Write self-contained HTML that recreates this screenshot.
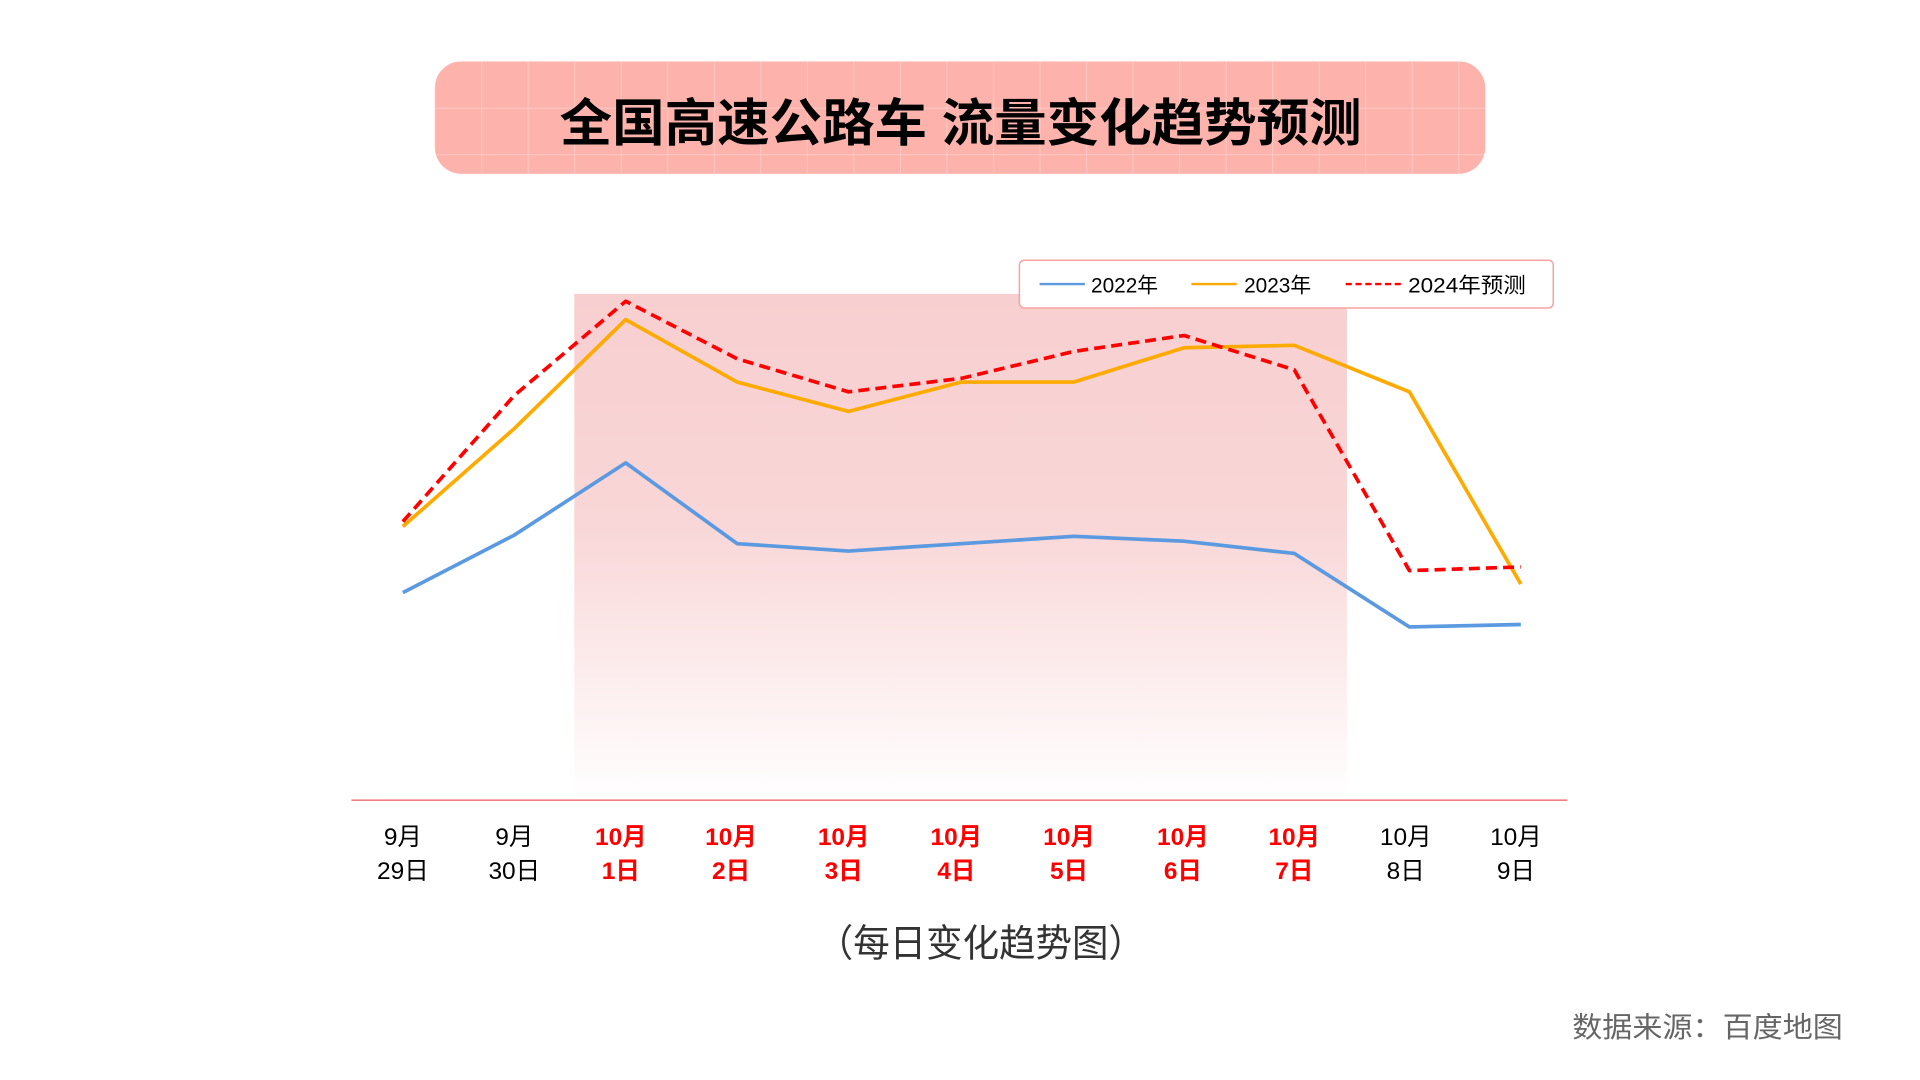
<!DOCTYPE html>
<html><head><meta charset="utf-8"><style>
html,body{margin:0;padding:0;background:#fff;}
svg{display:block;}
text{font-family:"Liberation Sans","Noto Sans CJK SC",sans-serif;}
</style></head><body>
<svg width="1920" height="1080" viewBox="0 0 1568 882" xmlns="http://www.w3.org/2000/svg">
<defs>
<linearGradient id="g" x1="0" y1="0" x2="0" y2="1">
<stop offset="0" stop-color="#f8cfd0"/><stop offset="0.45" stop-color="#f9d6d7"/><stop offset="1" stop-color="#fff"/>
</linearGradient>
<pattern id="grid" width="38" height="38" patternUnits="userSpaceOnUse" x="355" y="50">
<rect width="38" height="38" fill="#fdb3ac"/>
<path d="M0 0H38M0 0V38" stroke="#fdd0cb" stroke-width="1.2"/>
</pattern>
</defs>
<rect x="355" y="50" width="858" height="92" rx="22" fill="url(#grid)"/>
<text x="457" y="115" font-size="42" font-weight="bold" fill="#000" textLength="655" lengthAdjust="spacingAndGlyphs">全国高速公路车 流量变化趋势预测</text>

<rect x="469" y="240" width="631" height="413" fill="url(#g)"/>

<rect x="832.5" y="212.5" width="436" height="39" rx="4" fill="#fff" stroke="#f9a0a0" stroke-width="1.2"/>
<line x1="849" y1="232" x2="886" y2="232" stroke="#5b9ae0" stroke-width="2"/>
<text x="891" y="239" font-size="17" fill="#000">2022年</text>
<line x1="973" y1="232" x2="1010" y2="232" stroke="#ffaa00" stroke-width="2"/>
<text x="1016" y="239" font-size="17" fill="#000">2023年</text>
<line x1="1099" y1="232" x2="1144" y2="232" stroke="#ff0000" stroke-width="2" stroke-dasharray="5,3"/>
<text x="1150" y="239" font-size="17" fill="#000" textLength="96" lengthAdjust="spacingAndGlyphs">2024年预测</text>

<line x1="287" y1="653.5" x2="1280" y2="653.5" stroke="#f08080" stroke-width="1.3"/>

<g fill="none" stroke-linejoin="round" stroke-width="3">
<polyline stroke="#5b9ae0" points="329,484 420,437 511,378 602,444 693,450 785,444 877,438 967,442 1057,452 1151,512 1242,510"/>
<polyline stroke="#ffaa00" points="329,430 420,350 511,261 602,312 693,336 785,312 877,312 967,284 1057,282 1151,320 1242,477"/>
<polyline stroke="#ff0000" stroke-dasharray="9,5" points="329,426 420,323 511,246 602,293 693,320 785,309 877,287 967,274 1057,302 1151,466 1242,463"/>
</g>

<g font-size="20" text-anchor="middle">
<text x="329" y="690" fill="#000">9月</text><text x="329" y="718" fill="#000">29日</text>
<text x="420" y="690" fill="#000">9月</text><text x="420" y="718" fill="#000">30日</text>
<g fill="#ff0000" font-weight="bold">
<text x="507" y="690">10月</text><text x="507" y="718">1日</text>
<text x="597" y="690">10月</text><text x="597" y="718">2日</text>
<text x="689" y="690">10月</text><text x="689" y="718">3日</text>
<text x="781" y="690">10月</text><text x="781" y="718">4日</text>
<text x="873" y="690">10月</text><text x="873" y="718">5日</text>
<text x="966" y="690">10月</text><text x="966" y="718">6日</text>
<text x="1057" y="690">10月</text><text x="1057" y="718">7日</text>
</g>
<text x="1148" y="690" fill="#000">10月</text><text x="1148" y="718" fill="#000">8日</text>
<text x="1238" y="690" fill="#000">10月</text><text x="1238" y="718" fill="#000">9日</text>
</g>
<text x="667" y="781" font-size="31" fill="#333" textLength="268" lengthAdjust="spacingAndGlyphs">（每日变化趋势图）</text>
<text x="1284" y="847" font-size="23" fill="#666" textLength="221" lengthAdjust="spacingAndGlyphs">数据来源：百度地图</text>
</svg>
</body></html>
